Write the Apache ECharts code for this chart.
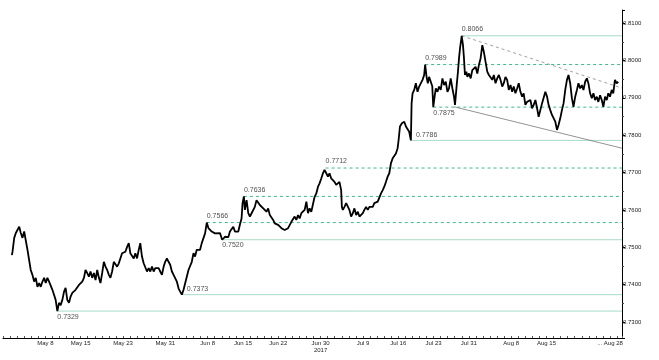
<!DOCTYPE html>
<html><head><meta charset="utf-8">
<script src="https://cdn.jsdelivr.net/npm/echarts@6/dist/echarts.min.js"></script>
<style>html,body{margin:0;padding:0;background:#fff}#c{width:659px;height:360px}</style>
</head><body><div id="c"></div>
<script>
// trading-day index (0 = May 1, 2017) and AUD/USD price
const days = [0.25,0.35,0.59,0.82,1.06,1.30,1.52,1.76,2.00,2.23,2.47,2.93,3.17,3.41,3.64,3.88,4.12,4.35,4.59,4.83,5.05,5.29,5.53,5.76,6.00,6.24,6.46,6.70,6.94,7.17,7.41,7.65,7.87,8.11,8.35,8.58,8.82,9.06,9.28,9.52,9.76,9.99,10.23,10.47,10.69,10.93,11.17,11.40,11.64,11.88,12.11,12.35,12.59,12.81,13.05,13.29,13.52,13.76,14.00,
14.22,14.46,14.70,14.93,15.17,15.41,15.63,15.87,16.11,16.34,16.58,16.82,17.04,17.28,17.52,17.75,17.99,18.23,18.45,18.69,18.93,19.16,19.40,19.64,19.87,20.11,20.35,20.57,20.81,21.05,21.28,21.52,21.76,21.98,22.22,22.46,22.69,22.93,23.17,23.39,23.63,23.87,24.10,24.34,24.58,24.80,25.04,25.28,25.51,25.75,25.99,26.21,26.45,26.69,26.92,27.16,27.40,27.63,27.87,28.11,28.33,28.57,28.81,29.04,29.28,29.74,30.05,30.45,30.69,30.93,31.15,31.39,31.63,31.86,32.10,32.34,32.56,32.80,32.94,33.13,33.27,33.51,33.75,33.98,34.22,34.46,34.68,34.92,35.16,35.39,35.63,35.87,36.09,36.33,36.57,36.80,37.04,37.28,37.50,37.74,37.98,38.21,38.45,38.69,38.91,39.15,39.39,39.62,39.86,40.10,40.32,40.56,40.80,41.03,41.27,41.51,41.74,41.98,42.21,42.44,42.68,42.92,43.15,43.39,43.63,43.85,44.09,44.33,44.56,44.70,
44.80,45.04,45.26,45.50,45.74,45.97,46.21,46.45,46.67,46.91,47.01,47.15,47.38,47.62,47.86,48.08,48.32,48.56,48.79,49.03,49.27,49.50,49.74,49.98,50.20,50.44,50.68,50.91,51.15,51.39,51.61,51.85,52.09,52.32,52.56,52.80,53.02,53.26,53.50,53.73,53.97,54.21,54.43,54.67,54.91,55.05,55.24,55.52,55.70,55.85,56.09,56.32,56.55,56.79,56.89,57.03,57.26,57.49,57.73,57.96,58.20,58.44,58.67,58.81,59.01,59.19,59.37,59.61,59.82,59.96,60.18,60.32,60.56,60.78,61.02,61.26,61.49,61.73,61.97,62.19,62.43,62.67,62.90,63.04,63.28,63.46,63.61,63.75,63.99,64.17,64.31,64.45,64.65,64.79,65.02,65.26,65.49,65.72,65.96,66.20,66.43,66.67,66.91,67.13,67.37,67.61,67.84,68.08,68.32,68.54,68.78,69.02,69.25,69.49,69.73,69.95,70.19,70.43,70.66,70.90,71.14,71.36,71.60,71.84,72.07,72.31,72.55,72.77,73.01,73.25,73.48,73.72,73.96,74.19,74.43,74.67,74.89,75.13,75.37,75.60,75.84,76.08,76.30,76.54,76.78,77.01,77.25,77.49,77.71,77.95,78.19,78.42,78.66,78.90,79.12,79.36,79.60,79.83,80.07,80.31,80.53,80.77,81.01,81.24,81.48,81.72,81.94,82.18,82.42,82.65,82.89,83.13,83.35,83.59,83.83,84.06,84.30,84.54,84.76,85.00,85.24,85.46,85.70,85.94,86.17];
const prices = [0.7479,0.7488,0.7525,0.7538,0.7533,0.7555,0.7538,0.7525,0.7542,0.7538,0.7493,0.7439,0.7426,0.7408,0.7418,0.7394,0.7404,0.7394,0.7408,0.7418,0.7404,0.7418,0.7408,0.7412,0.7386,0.7391,0.7359,0.7329,0.7351,0.7345,0.7359,0.7381,0.7391,0.7359,0.7351,0.7368,0.7378,0.7381,0.7386,0.7391,0.7399,0.7394,0.7408,0.7418,0.7439,0.7431,0.7421,0.7435,0.7418,0.7431,0.7412,0.7439,0.7418,0.7404,0.7431,0.7461,0.7448,0.7439,0.7426,
0.7418,0.7435,0.7461,0.7466,0.7448,0.7457,0.7461,0.7484,0.7479,0.7488,0.7501,0.7511,0.7484,0.7479,0.7470,0.7484,0.7470,0.7493,0.7511,0.7475,0.7457,0.7453,0.7435,0.7444,0.7435,0.7448,0.7435,0.7444,0.7439,0.7444,0.7435,0.7426,0.7448,0.7461,0.7470,0.7461,0.7453,0.7435,0.7426,0.7421,0.7408,0.7390,0.7381,0.7373,0.7386,0.7390,0.7421,0.7439,0.7435,0.7461,0.7484,0.7475,0.7493,0.7488,0.7493,0.7511,0.7506,0.7537,0.7566,0.7551,0.7555,0.7542,0.7546,0.7537,0.7542,0.7538,0.7520,0.7528,0.7533,0.7527,0.7542,0.7542,0.7555,0.7542,0.7546,0.7542,0.7560,0.7577,0.7618,0.7636,0.7600,0.7626,0.7591,0.7582,0.7591,0.7595,0.7608,0.7626,0.7622,0.7613,0.7613,0.7604,0.7600,0.7595,0.7604,0.7586,0.7591,0.7573,0.7564,0.7568,0.7560,0.7555,0.7551,0.7555,0.7546,0.7542,0.7551,0.7555,0.7568,0.7573,0.7582,0.7573,0.7586,0.7577,0.7591,0.7586,0.7600,0.7622,0.7591,0.7604,0.7595,0.7591,0.7635,0.7644,0.7662,0.7671,0.7684,0.7698,0.7707,0.7712,
0.7698,0.7689,0.7698,0.7684,0.7689,0.7675,0.7667,0.7662,0.7675,0.7653,0.7608,0.7600,0.7608,0.7618,0.7622,0.7600,0.7582,0.7591,0.7604,0.7586,0.7595,0.7582,0.7577,0.7591,0.7600,0.7608,0.7600,0.7608,0.7604,0.7608,0.7618,0.7613,0.7622,0.7626,0.7644,0.7653,0.7662,0.7675,0.7689,0.7698,0.7725,0.7738,0.7738,0.7751,0.7765,0.7787,0.7823,0.7832,0.7827,0.7836,0.7823,0.7827,0.7809,0.7786,0.7885,0.7912,0.7921,0.7939,0.7916,0.7930,0.7925,0.7948,0.7961,0.7989,0.7956,0.7939,0.7956,0.7961,0.7931,0.7875,0.7907,0.7925,0.7916,0.7930,0.7921,0.7952,0.7934,0.7943,0.7916,0.7925,0.7952,0.7925,0.7903,0.7881,0.7934,0.7970,0.8006,0.8032,0.8066,0.8041,0.8006,0.7961,0.7970,0.7956,0.7965,0.7952,0.7974,0.7970,0.7983,0.7965,0.7988,0.8006,0.8041,0.8023,0.7996,0.7970,0.7961,0.7965,0.7948,0.7961,0.7939,0.7952,0.7961,0.7948,0.7930,0.7939,0.7956,0.7948,0.7921,0.7934,0.7916,0.7930,0.7912,0.7925,0.7939,0.7916,0.7903,0.7912,0.7881,0.7889,0.7885,0.7894,0.7872,0.7881,0.7894,0.7872,0.7849,0.7867,0.7885,0.7889,0.7916,0.7903,0.7881,0.7867,0.7854,0.7849,0.7836,0.7814,0.7827,0.7845,0.7867,0.7885,0.7921,0.7948,0.7961,0.7939,0.7899,0.7876,0.7903,0.7921,0.7939,0.7925,0.7934,0.7921,0.7943,0.7952,0.7939,0.7912,0.7899,0.7912,0.7894,0.7903,0.7889,0.7907,0.7894,0.7876,0.7903,0.7894,0.7912,0.7903,0.7921,0.7912,0.7948,0.7939,0.7943];

const tickDays = [5,10,16,22,28,33,38,44,50,55,60,65,71,76,85];
const tickLabels = ['May 8','May 15','May 23','May 31','Jun 8','Jun 15','Jun 22','Jun 30\n2017','Jul 9','Jul 16','Jul 23','Jul 31','Aug 8','Aug 15','... Aug 28'];

const levelValues = [0.7329,0.7373,0.7520,0.7566,0.7636,0.7712,0.7786,0.7875,0.7989,0.8066];
const levelStartDays = [6.70,24.34,30.05,27.87,33.13,44.70,56.79,59.96,58.81,63.99];

const resistDays = [63.99, 86.7];
const resistValues = [0.8066, 0.7926];
const supportDays = [62.90, 86.7];
const supportValues = [0.7876, 0.7765];

const lastPrice = 0.7940;
const xMin = -1, xMax = 86.7;
const yMin = 0.7257, yMax = 0.8135;

// styling per level (kept separate from data)
const levelDashed = [false,false,false,true,true,true,false,true,true,false];
const levelLabelPos = ['below','right','below','above','above','above','right','below','above','above'];

const FONT = 'Liberation Sans, Arial, sans-serif';
const SOLID_C = '#a6dcc6', DASH_C = '#3dbb87';

const series = [];
levelValues.forEach((v,i)=>{
  series.push({
    type:'line', data:[[levelStartDays[i], v],[xMax, v]], showSymbol:false, silent:true, z:2,
    lineStyle:{color: levelDashed[i]?DASH_C:SOLID_C, type: levelDashed[i]?[3,3]:'solid', width:1}
  });
});
series.push({
  type:'scatter', symbolSize:0, silent:true, z:6,
  data: levelValues.map((v,i)=>({
    value:[levelStartDays[i], v],
    label:{show:true, formatter:v.toFixed(4),
      position: levelLabelPos[i]==='above' ? [0,-10] : levelLabelPos[i]==='below' ? [0,2] : [5,-9]}
  })),
  label:{color:'#222', fontSize:7, fontFamily:FONT}
});
series.push({
  type:'line', data:resistDays.map((d,i)=>[d,resistValues[i]]), showSymbol:false, silent:true, z:3,
  lineStyle:{color:'#888', width:0.8, type:[3,3]}
});
series.push({
  type:'line', data:supportDays.map((d,i)=>[d,supportValues[i]]), showSymbol:false, silent:true, z:3,
  lineStyle:{color:'#777', width:0.8}
});
series.push({
  type:'line', data:days.map((d,i)=>[d, prices[i]]), showSymbol:false, silent:true, z:5,
  lineStyle:{color:'#000', width:1.8},
  markLine:{silent:true, symbol:['none','none'], animation:false,
    data:[{yAxis:lastPrice, lineStyle:{opacity:0, width:0},
      label:{show:true, position:'end', distance:1, formatter:lastPrice.toFixed(4), color:'#fff',
        backgroundColor:'#000', padding:[2,2,1,2], fontSize:6, fontFamily:FONT}}]}
});

const chart = echarts.init(document.getElementById('c'), null, {renderer:'canvas'});
chart.setOption({
  animation:false,
  backgroundColor:'#fff',
  grid:{left:0, right:37, top:10, bottom:22, containLabel:false},
  xAxis:{
    type:'value', min:xMin, max:xMax, interval:1,
    splitLine:{show:false},
    axisLine:{onZero:false, lineStyle:{color:'#000', width:1}},
    axisTick:{inside:true, length:2, lineStyle:{color:'#555'}},
    axisLabel:{fontSize:6, margin:2, color:'#222', lineHeight:7, fontFamily:FONT,
      formatter:(v)=>{
        const r = Math.round(v);
        if (Math.abs(v-r)>1e-6) return '';
        const i = tickDays.indexOf(r);
        return i>=0 ? tickLabels[i] : '';
      }}
  },
  yAxis:{
    type:'value', position:'right', min:yMin, max:yMax, splitNumber:9, scale:true,
    splitLine:{show:false},
    axisLine:{show:true, onZero:false, lineStyle:{color:'#000', width:1}},
    axisTick:{show:true, length:3, lineStyle:{color:'#000'}},
    minorTick:{show:true, splitNumber:2, length:2, lineStyle:{color:'#444'}},
    axisLabel:{fontSize:6, margin:1, color:'#222', fontFamily:FONT,
      formatter:(v)=> Math.abs(v*100-Math.round(v*100))<1e-6 ? v.toFixed(4) : ''}
  },
  series: series
});
</script></body></html>
